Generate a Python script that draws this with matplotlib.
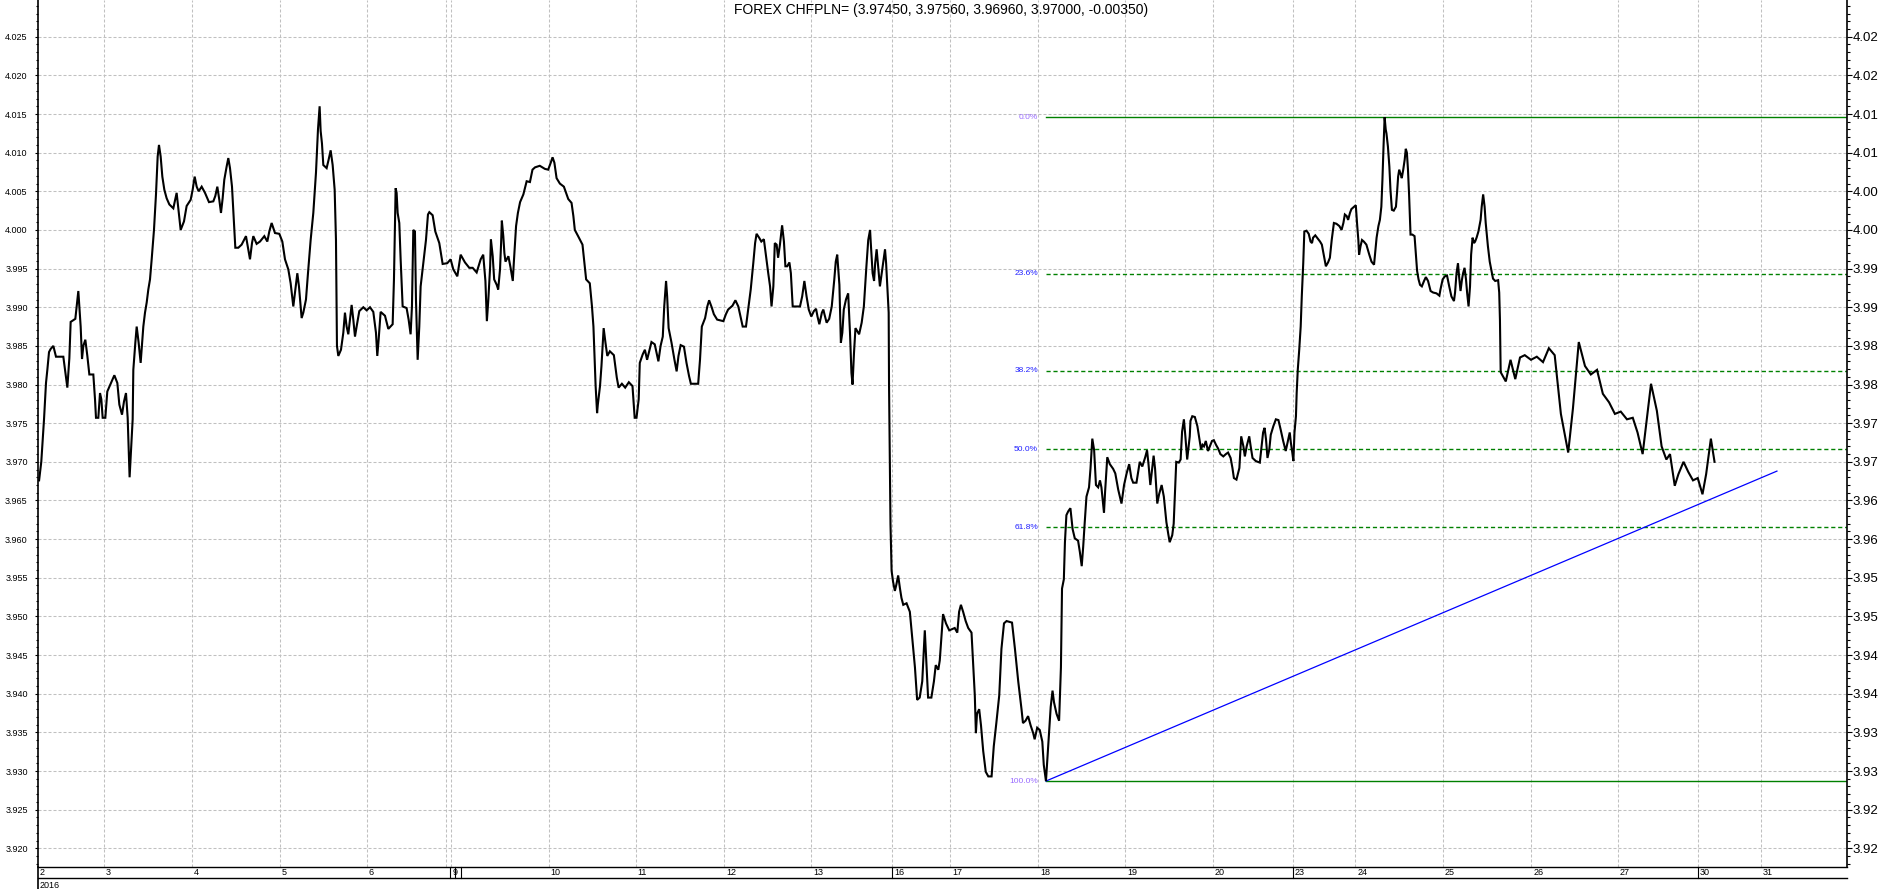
import matplotlib
matplotlib.use('Agg')
import matplotlib.pyplot as plt
import matplotlib.transforms as mtransforms
import numpy as np

plt.rcParams['font.family'] = ['Liberation Sans', 'DejaVu Sans']

title_text = "FOREX CHFPLN= (3.97450, 3.97560, 3.96960, 3.97000, -0.00350)"

# time in hours from the first bar, price values
hours = [
    0.3, 0.9, 1.65, 2.19, 2.56, 3.02, 3.47, 4.2, 4.93, 6.94, 7.4, 8.04, 8.59, 8.95, 10.23, 10.6, 11.05, 11.33, 11.69, 12.06,
    12.42, 12.97, 13.52, 14.07, 15.16, 15.62, 15.89, 16.53, 16.99, 17.35, 17.72, 18.45, 18.99, 20.18, 20.92, 21.74, 22.29, 23.02, 23.56, 24.11,
    24.57, 25.1, 25.94, 26.12, 26.67, 27.04, 27.58, 28.13, 28.86, 29.32, 29.78, 30.23, 30.69, 31.15, 31.78, 32.33, 32.79, 33.15, 33.61, 34.07,
    34.62, 35.25, 35.99, 37.08, 37.99, 38.54, 39.09, 40.0, 40.73, 41.83, 42.38, 42.93, 43.48, 44.02, 44.85, 45.76, 46.85, 48.04, 48.59, 49.14,
    49.68, 50.14, 50.6, 51.05, 51.69, 52.15, 52.61, 53.16, 53.7, 54.07, 54.89, 55.8, 56.99, 57.63, 58.09, 58.64, 59.0, 59.91, 60.83, 62.02,
    62.84, 63.38, 64.02, 64.94, 66.13, 66.95, 67.68, 68.59, 69.23, 69.96, 70.42, 71.06, 71.51, 71.97, 72.24, 72.7, 73.43, 73.98, 74.71, 75.44,
    76.17, 76.72, 77.17, 77.45, 77.81, 78.18, 79.09, 79.64, 80.19, 80.74, 81.29, 81.65, 81.92, 82.29, 83.02, 83.66, 84.11, 84.57, 85.03, 85.49,
    85.94, 86.4, 86.86, 87.31, 88.04, 89.14, 90.05, 90.97, 91.88, 92.61, 92.97, 93.34, 93.89, 95.08, 95.99, 97.18, 97.54, 98.0, 98.27, 98.55,
    99.0, 99.37, 99.92, 101.0, 101.56, 102.1, 102.47, 102.84, 103.29, 103.57, 104.03, 104.48, 104.85, 105.58, 106.31, 106.86, 107.23, 108.14, 108.87, 109.96,
    110.88, 112.15, 113.07, 113.8, 114.9, 115.81, 117.0, 118.18,
    119.1, 120.2, 121.3, 122.0, 122.6, 123.0, 123.4, 123.9, 124.1, 124.6, 125.0, 125.7, 126.1, 126.6, 126.9, 127.1, 127.5, 127.8, 128.1, 128.9,
    129.5, 130.1, 130.4, 131.0, 131.5, 132.1, 133.0, 133.9, 134.8, 135.5, 136.2, 137.5, 138.9, 139.8, 140.5, 141.0, 141.5, 142.1, 143.0, 144.1,
    144.7, 145.3, 146.2, 146.7, 147.1, 148.0, 149.2, 150.2, 151.2, 151.8, 152.2, 152.5, 152.8, 153.2, 153.4, 154.0, 154.4, 155.0, 155.5, 156.0,
    156.7, 157.8, 158.6, 159.1, 160.0, 160.9, 161.9, 162.9, 163.5, 164.0, 164.6, 164.9, 165.7, 166.3, 166.9, 168.1, 169.0, 170.0, 170.6, 171.2,
    171.6, 172.1, 172.4, 172.8, 173.6, 174.4, 175.0, 175.5, 176.1, 177.0, 177.7, 178.4, 178.9, 180.9, 181.4, 181.9, 182.8, 183.4, 183.9, 184.6,
    185.2, 186.1, 187.8, 188.5, 189.1, 190.3, 191.1, 191.9, 192.5, 193.1, 194.0, 194.6, 195.3, 196.0, 196.5, 196.9, 197.6, 198.2, 198.9, 199.5,
    200.1, 200.6, 201.0, 201.5, 201.9, 202.4, 202.8, 203.3, 203.9, 204.4, 204.8, 205.3, 205.9, 206.3, 206.8, 208.8, 209.4, 210.0, 210.6, 211.2,
    211.9, 212.6, 213.2, 213.6, 214.1, 214.8, 215.2, 215.5, 216.1, 216.8, 217.5, 218.2, 218.6, 219.0, 219.6, 220.0, 220.4, 220.8, 221.4, 222.0,
    222.5, 222.9, 223.2, 223.6, 224.0, 224.5, 225.0, 225.7, 226.3, 227.0, 227.5, 228.0, 228.2, 228.7, 229.1, 229.4, 229.8, 230.2, 230.7, 231.2,
    231.6, 232.1, 232.4, 232.8, 233.1,
    233.2, 233.6, 233.9, 234.3, 234.8, 235.2, 235.7, 236.2, 236.6, 237.1, 238.0, 238.9, 239.6, 240.3, 240.9, 241.6, 242.3, 243.0, 243.5, 243.9,
    244.8, 245.5, 246.0, 246.7, 247.1, 247.6, 248.0, 248.8, 249.7, 251.2, 251.9, 252.4, 252.9, 253.5, 254.2, 254.9, 255.8, 256.3, 256.7, 257.0,
    257.3, 257.9, 258.4, 259.0, 259.7, 260.4, 261.3, 261.9, 262.6, 263.4, 264.0, 264.7, 265.4, 266.9, 267.7, 268.6, 269.5, 269.9, 270.6, 271.3,
    272.0, 272.7, 273.1, 273.8, 274.5, 275.2, 275.6, 276.2, 276.6, 277.1, 277.5, 278.0, 278.4, 279.1, 279.8, 280.3, 280.6, 281.1, 281.4, 281.8,
    282.3, 282.9, 283.5, 284.1, 285.0, 285.5, 286.0, 286.4, 286.8, 287.3, 288.0, 288.4, 288.9, 289.4, 289.9, 290.5, 291.0, 291.4, 292.1, 292.4,
    293.0, 293.7, 294.6, 295.2, 296.0, 296.9, 297.6, 298.3, 299.0, 299.6, 300.1, 301.0, 301.5, 301.9, 302.6, 303.4, 303.9, 304.3, 304.8, 305.3,
    305.7, 306.1, 306.7, 307.2, 307.9, 308.5, 309.2, 309.7, 310.1, 310.8, 311.2, 311.6, 311.9, 312.6, 313.1, 313.5, 314.0, 314.4, 314.9, 315.6,
    315.8, 316.3, 317.0, 317.7, 318.2, 318.7, 319.1, 319.5, 320.0, 320.6, 321.1, 321.7, 322.2, 322.8, 323.4, 324.0, 324.8, 325.5, 326.1, 326.8,
    327.3, 327.7, 328.4, 329.2, 329.7, 330.3, 330.7, 331.2, 331.9, 332.3, 332.8, 333.7, 334.8, 335.3, 335.7, 336.1, 336.5, 336.9, 337.4, 337.8,
    338.5, 339.2, 339.9, 340.5, 341.2, 341.9, 342.6, 343.0, 343.3, 343.7, 344.0, 344.3, 344.7, 344.9, 345.2, 345.6, 346.0, 346.3, 346.7, 347.0,
    347.6, 348.2, 348.7, 349.1, 349.4, 350.0, 350.5, 351.3, 351.8, 352.4, 352.9, 353.5, 354.0, 354.5, 355.1, 355.8, 356.6, 357.2, 357.7, 358.1,
    358.6, 359.0, 359.5, 359.9, 360.6, 361.1, 361.5, 361.8, 362.0, 362.4, 362.8, 363.3, 364.0, 364.8, 365.4, 366.1, 366.4, 366.8, 367.3, 367.7,
    368.1, 368.4, 368.7, 369.0, 369.3, 369.5, 369.9, 370.3, 370.6, 371.0, 371.5, 372.1, 372.4, 372.7, 373.0, 373.4, 373.7, 374.1, 374.5, 374.8,
    375.1, 375.4, 375.7, 376.1, 376.6, 377.2, 377.6, 377.9, 378.3, 378.7, 379.2, 379.8, 380.3, 380.9, 381.6, 382.3, 383.2, 384.0, 384.3, 384.9,
    385.5, 386.1, 386.7, 387.3, 388.0, 388.3, 388.7, 389.1, 389.4, 389.8, 390.2, 390.5, 390.9, 391.3, 391.6, 392.0, 392.4, 392.7, 393.1, 393.5,
    393.8, 394.2, 394.7, 395.3, 395.6, 396.0, 396.4, 396.7, 397.3, 397.8, 398.3, 398.7, 399.3, 400.1, 400.4, 400.6,
    400.8, 402.2, 403.5, 404.8, 406.1, 407.4, 409.1, 410.7, 412.4, 414.0, 415.6, 417.3, 419.3, 420.6, 422.2, 423.9, 425.5, 427.2, 428.8, 430.5,
    432.1, 433.7, 435.4, 437.0, 438.3, 439.7, 441.0, 442.0, 443.6, 444.9, 446.2, 447.2, 448.5, 449.5, 450.9, 452.2, 453.5, 454.8, 456.1, 457.1,
    458.4, 459.4,
]

prices = [
    3.9676, 3.9700, 3.9755, 3.9802, 3.9819, 3.9842, 3.9846, 3.9850, 3.9836, 3.9836, 3.9819, 3.9796, 3.9834, 3.9881, 3.9885, 3.9901, 3.9921, 3.9901, 3.9875, 3.9833,
    3.9850, 3.9858, 3.9837, 3.9813, 3.9813, 3.9781, 3.9757, 3.9757, 3.9789, 3.9781, 3.9757, 3.9757, 3.9791, 3.9804, 3.9812, 3.9802, 3.9774, 3.9761, 3.9778, 3.9789,
    3.9757, 3.9680, 3.9755, 3.9819, 3.9854, 3.9875, 3.9854, 3.9828, 3.9875, 3.9893, 3.9906, 3.9923, 3.9936, 3.9962, 4.0000, 4.0046, 4.0095, 4.0110, 4.0095, 4.0069,
    4.0052, 4.0041, 4.0033, 4.0028, 4.0048, 4.0024, 4.0000, 4.0011, 4.0031, 4.0039, 4.0052, 4.0069, 4.0056, 4.0050, 4.0056, 4.0048, 4.0036, 4.0037, 4.0044, 4.0056,
    4.0039, 4.0022, 4.0041, 4.0065, 4.0082, 4.0093, 4.0080, 4.0056, 4.0009, 3.9977, 3.9977, 3.9981, 3.9992, 3.9975, 3.9962, 3.9983, 3.9992, 3.9982, 3.9985, 3.9992,
    3.9985, 3.9998, 4.0009, 3.9996, 3.9995, 3.9985, 3.9962, 3.9949, 3.9931, 3.9901, 3.9919, 3.9944, 3.9927, 3.9901, 3.9886, 3.9893, 3.9910, 3.9944, 3.9987, 4.0022,
    4.0074, 4.0130, 4.0160, 4.0128, 4.0112, 4.0084, 4.0080, 4.0091, 4.0103, 4.0084, 4.0052, 3.9987, 3.9850, 3.9837, 3.9845, 3.9867, 3.9893, 3.9875, 3.9865, 3.9884,
    3.9903, 3.9884, 3.9862, 3.9875, 3.9895, 3.9900, 3.9896, 3.9900, 3.9894, 3.9867, 3.9837, 3.9858, 3.9894, 3.9889, 3.9872, 3.9878, 3.9936, 4.0054, 4.0048, 4.0022,
    4.0009, 3.9962, 3.9901, 3.9899, 3.9884, 3.9865, 3.9901, 4.0000, 3.9998, 3.9910, 3.9832, 3.9875, 3.9927, 3.9957, 3.9987, 4.0020, 4.0023, 4.0019, 3.9998, 3.9983,
    3.9956, 3.9957, 3.9962, 3.9949, 3.9940, 3.9968, 3.9958, 3.9951,
    3.9951, 3.9945, 3.9962, 3.9968, 3.9934, 3.9882, 3.9910, 3.9953, 3.9988, 3.9966, 3.9936, 3.9929, 3.9923, 3.9949, 3.9983, 4.0012, 3.9992, 3.9970, 3.9959, 3.9966,
    3.9951, 3.9934, 3.9959, 4.0005, 4.0022, 4.0036, 4.0046, 4.0063, 4.0062, 4.0078, 4.0081, 4.0083, 4.0079, 4.0078, 4.0087, 4.0094, 4.0087, 4.0067, 4.0060, 4.0056,
    4.0048, 4.0040, 4.0035, 4.0018, 4.0000, 3.9992, 3.9981, 3.9936, 3.9931, 3.9901, 3.9875, 3.9837, 3.9798, 3.9763, 3.9774, 3.9798, 3.9824, 3.9873, 3.9854, 3.9837,
    3.9843, 3.9838, 3.9809, 3.9796, 3.9801, 3.9796, 3.9803, 3.9798, 3.9757, 3.9757, 3.9781, 3.9828, 3.9839, 3.9845, 3.9832, 3.9855, 3.9852, 3.9830, 3.9850, 3.9862,
    3.9901, 3.9934, 3.9914, 3.9873, 3.9854, 3.9832, 3.9817, 3.9837, 3.9851, 3.9849, 3.9828, 3.9811, 3.9801, 3.9801, 3.9832, 3.9875, 3.9886, 3.9901, 3.9909, 3.9900,
    3.9891, 3.9884, 3.9882, 3.9891, 3.9897, 3.9902, 3.9909, 3.9901, 3.9888, 3.9875, 3.9875, 3.9897, 3.9923, 3.9957, 3.9983, 3.9995, 3.9990, 3.9985, 3.9988, 3.9966,
    3.9944, 3.9927, 3.9901, 3.9927, 3.9983, 3.9981, 3.9964, 3.9981, 4.0006, 3.9985, 3.9953, 3.9953, 3.9958, 3.9944, 3.9901, 3.9901, 3.9914, 3.9934, 3.9914, 3.9897,
    3.9888, 3.9895, 3.9898, 3.9888, 3.9878, 3.9893, 3.9897, 3.9891, 3.9880, 3.9885, 3.9901, 3.9936, 3.9959, 3.9968, 3.9929, 3.9854, 3.9867, 3.9897, 3.9910, 3.9918,
    3.9867, 3.9815, 3.9800, 3.9841, 3.9873, 3.9869, 3.9865, 3.9880, 3.9901, 3.9953, 3.9987, 4.0000, 3.9983, 3.9944, 3.9934, 3.9957, 3.9975, 3.9953, 3.9927, 3.9944,
    3.9957, 3.9975, 3.9957, 3.9919, 3.9893,
    3.9799, 3.9619, 3.9559, 3.9545, 3.9533, 3.9541, 3.9553, 3.9536, 3.9524, 3.9515, 3.9517, 3.9506, 3.9470, 3.9434, 3.9392, 3.9395, 3.9416, 3.9482, 3.9434, 3.9395,
    3.9395, 3.9416, 3.9437, 3.9431, 3.9443, 3.9476, 3.9503, 3.9491, 3.9482, 3.9485, 3.9479, 3.9506, 3.9515, 3.9506, 3.9494, 3.9485, 3.9479, 3.9434, 3.9398, 3.9349,
    3.9374, 3.9380, 3.9359, 3.9326, 3.9299, 3.9293, 3.9293, 3.9332, 3.9362, 3.9398, 3.9458, 3.9491, 3.9494, 3.9492, 3.9458, 3.9416, 3.9380, 3.9362, 3.9365, 3.9371,
    3.9359, 3.9349, 3.9341, 3.9356, 3.9353, 3.9338, 3.9308, 3.9287, 3.9317, 3.9356, 3.9383, 3.9404, 3.9389, 3.9374, 3.9365, 3.9434, 3.9536, 3.9548, 3.9596, 3.9631,
    3.9636, 3.9640, 3.9613, 3.9601, 3.9598, 3.9583, 3.9565, 3.9590, 3.9620, 3.9655, 3.9667, 3.9691, 3.9730, 3.9715, 3.9670, 3.9667, 3.9676, 3.9667, 3.9634, 3.9661,
    3.9706, 3.9697, 3.9691, 3.9685, 3.9664, 3.9646, 3.9670, 3.9685, 3.9697, 3.9679, 3.9673, 3.9673, 3.9688, 3.9700, 3.9694, 3.9706, 3.9715, 3.9697, 3.9670, 3.9691,
    3.9708, 3.9691, 3.9646, 3.9658, 3.9670, 3.9655, 3.9622, 3.9607, 3.9596, 3.9605, 3.9620, 3.9667, 3.9700, 3.9699, 3.9703, 3.9739, 3.9755, 3.9733, 3.9703, 3.9733,
    3.9753, 3.9759, 3.9758, 3.9746, 3.9731, 3.9716, 3.9722, 3.9720, 3.9727, 3.9714, 3.9720, 3.9727, 3.9728, 3.9722, 3.9717, 3.9710, 3.9707, 3.9710, 3.9712, 3.9705,
    3.9692, 3.9679, 3.9677, 3.9692, 3.9733, 3.9720, 3.9707, 3.9720, 3.9733, 3.9720, 3.9705, 3.9701, 3.9699, 3.9720, 3.9738, 3.9744, 3.9729, 3.9705, 3.9716, 3.9735,
    3.9746, 3.9755, 3.9754, 3.9742, 3.9727, 3.9714, 3.9729, 3.9738, 3.9725, 3.9712, 3.9701, 3.9738, 3.9759, 3.9789, 3.9819, 3.9845, 3.9875, 3.9914, 3.9957, 3.9998,
    3.9999, 3.9995, 3.9985, 3.9983, 3.9990, 3.9993, 3.9990, 3.9985, 3.9981, 3.9966, 3.9953, 3.9958, 3.9964, 3.9987, 4.0009, 4.0008, 4.0005, 4.0000, 4.0009, 4.0020,
    4.0018, 4.0013, 4.0022, 4.0027, 4.0030, 4.0032, 4.0005, 3.9987, 3.9968, 3.9979, 3.9987, 3.9985, 3.9981, 3.9968, 3.9959, 3.9955, 3.9970, 3.9990, 4.0005, 4.0013,
    4.0030, 4.0065, 4.0108, 4.0146, 4.0130, 4.0125, 4.0108, 4.0082, 4.0052, 4.0026, 4.0025, 4.0030, 4.0048, 4.0069, 4.0078, 4.0072, 4.0067, 4.0078, 4.0091, 4.0105,
    4.0100, 4.0078, 4.0046, 3.9994, 3.9994, 3.9992, 3.9966, 3.9947, 3.9936, 3.9929, 3.9927, 3.9934, 3.9939, 3.9934, 3.9921, 3.9919, 3.9918, 3.9915, 3.9923, 3.9936,
    3.9940, 3.9941, 3.9927, 3.9914, 3.9908, 3.9919, 3.9944, 3.9957, 3.9940, 3.9921, 3.9936, 3.9944, 3.9951, 3.9936, 3.9919, 3.9901, 3.9927, 3.9968, 3.9990, 3.9983,
    3.9985, 3.9990, 3.9998, 4.0013, 4.0030, 4.0046, 4.0030, 4.0009, 3.9979, 3.9959, 3.9947, 3.9937, 3.9934, 3.9935, 3.9919, 3.9884,
    3.9816, 3.9804, 3.9832, 3.9807, 3.9835, 3.9838, 3.9832, 3.9836, 3.9829, 3.9847, 3.9838, 3.9762, 3.9712, 3.9769, 3.9855, 3.9824, 3.9813, 3.9819, 3.9788, 3.9777,
    3.9762, 3.9765, 3.9755, 3.9757, 3.9738, 3.9710, 3.9762, 3.9801, 3.9766, 3.9720, 3.9703, 3.9710, 3.9669, 3.9684, 3.9700, 3.9687, 3.9676, 3.9679, 3.9658, 3.9684,
    3.9730, 3.9700,
]

day_labels = ['2', '3', '4', '5', '6', '9', '10', '11', '12', '13', '16', '17', '18', '19', '20',
              '23', '24', '25', '26', '27', '30', '31']
day_hours = [0.0, 18.0, 42.2, 66.3, 90.1, 113.2, 140.0, 163.8, 188.1, 211.9, 234.1, 250.0, 274.1,
             297.9, 322.0, 343.9, 361.0, 385.0, 409.2, 433.0, 454.9, 472.0]
extra_grid_hours = [111.9]
week_sep_hours = [112.9, 114.4, 115.8, 234.1, 343.9, 454.9]
year_label = '2016'

fib_high = 4.0146
fib_low = 3.9287
fib_start_hour = 276.2
fib_levels = [0.0, 23.6, 38.2, 50.0, 61.8, 100.0]
fib_labels = ['0.0%', '23.6%', '38.2%', '50.0%', '61.8%', '100.0%']

trend_hours = [276.2, 476.5]
trend_prices = [3.9287, 3.9688]

y_ticks = np.round(np.arange(3.920, 4.0251, 0.005), 3)
y_minor = np.round(np.arange(3.918, 4.0295, 0.001), 3)
x_max = 495.7
y_min, y_max = 3.91758, 4.02975

W, H = 1883, 889
fig = plt.figure(figsize=(W / 100, H / 100), dpi=100)
ax_l, ax_r, ax_b, ax_t = 38, 1847, 867, 0
ax = fig.add_axes([ax_l / W, 1 - ax_b / H, (ax_r - ax_l) / W, (ax_b - ax_t) / H])
ax.set_xlim(0, x_max)
ax.set_ylim(y_min, y_max)

grid_kw = dict(color='#c0c0c0', lw=0.75, ls=(0, (2.9, 1.9)), zorder=0)
for v in y_ticks:
    ax.axhline(v, **grid_kw)
for h in day_hours[1:] + extra_grid_hours:
    ax.axvline(h, **grid_kw)

# price
ax.plot(hours, prices, color='black', lw=1.5, zorder=5, solid_joinstyle='miter')

# fibonacci retracement
rng = fib_high - fib_low
for lvl, lab in zip(fib_levels, fib_labels):
    p = fib_high - lvl / 100.0 * rng
    solid = lvl in (0.0, 100.0)
    ax.plot([fib_start_hour, x_max], [p, p], color='#008000', lw=1.0,
            ls='-' if solid else (0, (3, 2)), zorder=3)
    ax.text(fib_start_hour - 2.2, p, lab, ha='right', va='center', fontsize=6,
            color='#9a6cff' if solid else '#2020ff', zorder=4)

# trend line
ax.plot(trend_hours, trend_prices, color='#0000ff', lw=0.9, zorder=4)

# axes styling
for s in ['top', 'right']:
    ax.spines[s].set_visible(False)
ax.spines['left'].set_linewidth(1.2)
ax.spines['bottom'].set_linewidth(1.0)
ax.set_xticks([])
ax.set_yticks(y_ticks)
ax.set_yticklabels([f'{v:.3f}' for v in y_ticks])
ax.set_yticks(y_minor, minor=True)
ax.tick_params(axis='y', which='major', direction='out', length=2.4, width=0.8, pad=5,
               labelsize=6.5, colors='black')
ax.tick_params(axis='y', which='minor', direction='out', length=1.6, width=0.8)

ax2 = ax.twinx()
ax2.set_ylim(y_min, y_max)
for s in ['top', 'left', 'bottom']:
    ax2.spines[s].set_visible(False)
ax2.spines['right'].set_linewidth(1.2)
ax2.set_yticks(y_ticks)
ax2.set_yticklabels([f'{np.floor(v * 100 + 1e-6) / 100:.2f}' for v in y_ticks])
ax2.set_yticks(y_minor, minor=True)
ax2.tick_params(axis='y', which='major', direction='out', length=3.6, width=0.8, pad=0.6,
                labelsize=9.5)
ax2.tick_params(axis='y', which='minor', direction='out', length=2.2, width=0.8)

# date band below the plot
px = 1.0 / (ax_b - ax_t)
trans = mtransforms.blended_transform_factory(ax.transData, ax.transAxes)
for lab, h in zip(day_labels, day_hours):
    ax.text(h + 0.5, -5.8 * px, lab, transform=trans, ha='left', va='center',
            fontsize=6.5, clip_on=False)
ax.plot([0, 1], [-11 * px, -11 * px], transform=ax.transAxes, color='black', lw=1.0,
        clip_on=False)
ax.plot([0, 0], [0, -22 * px], transform=ax.transAxes, color='black', lw=1.2, clip_on=False)
for h in week_sep_hours:
    ax.plot([h, h], [0, -11 * px], transform=trans, color='black', lw=0.8, clip_on=False)
ax.text(0.5, -18 * px, year_label, transform=trans, ha='left', va='center', fontsize=6.5,
        clip_on=False)

fig.text(0.5, 1 - 10 / H, title_text, ha='center', va='center', fontsize=10)

fig.savefig('out.png', dpi=100)
